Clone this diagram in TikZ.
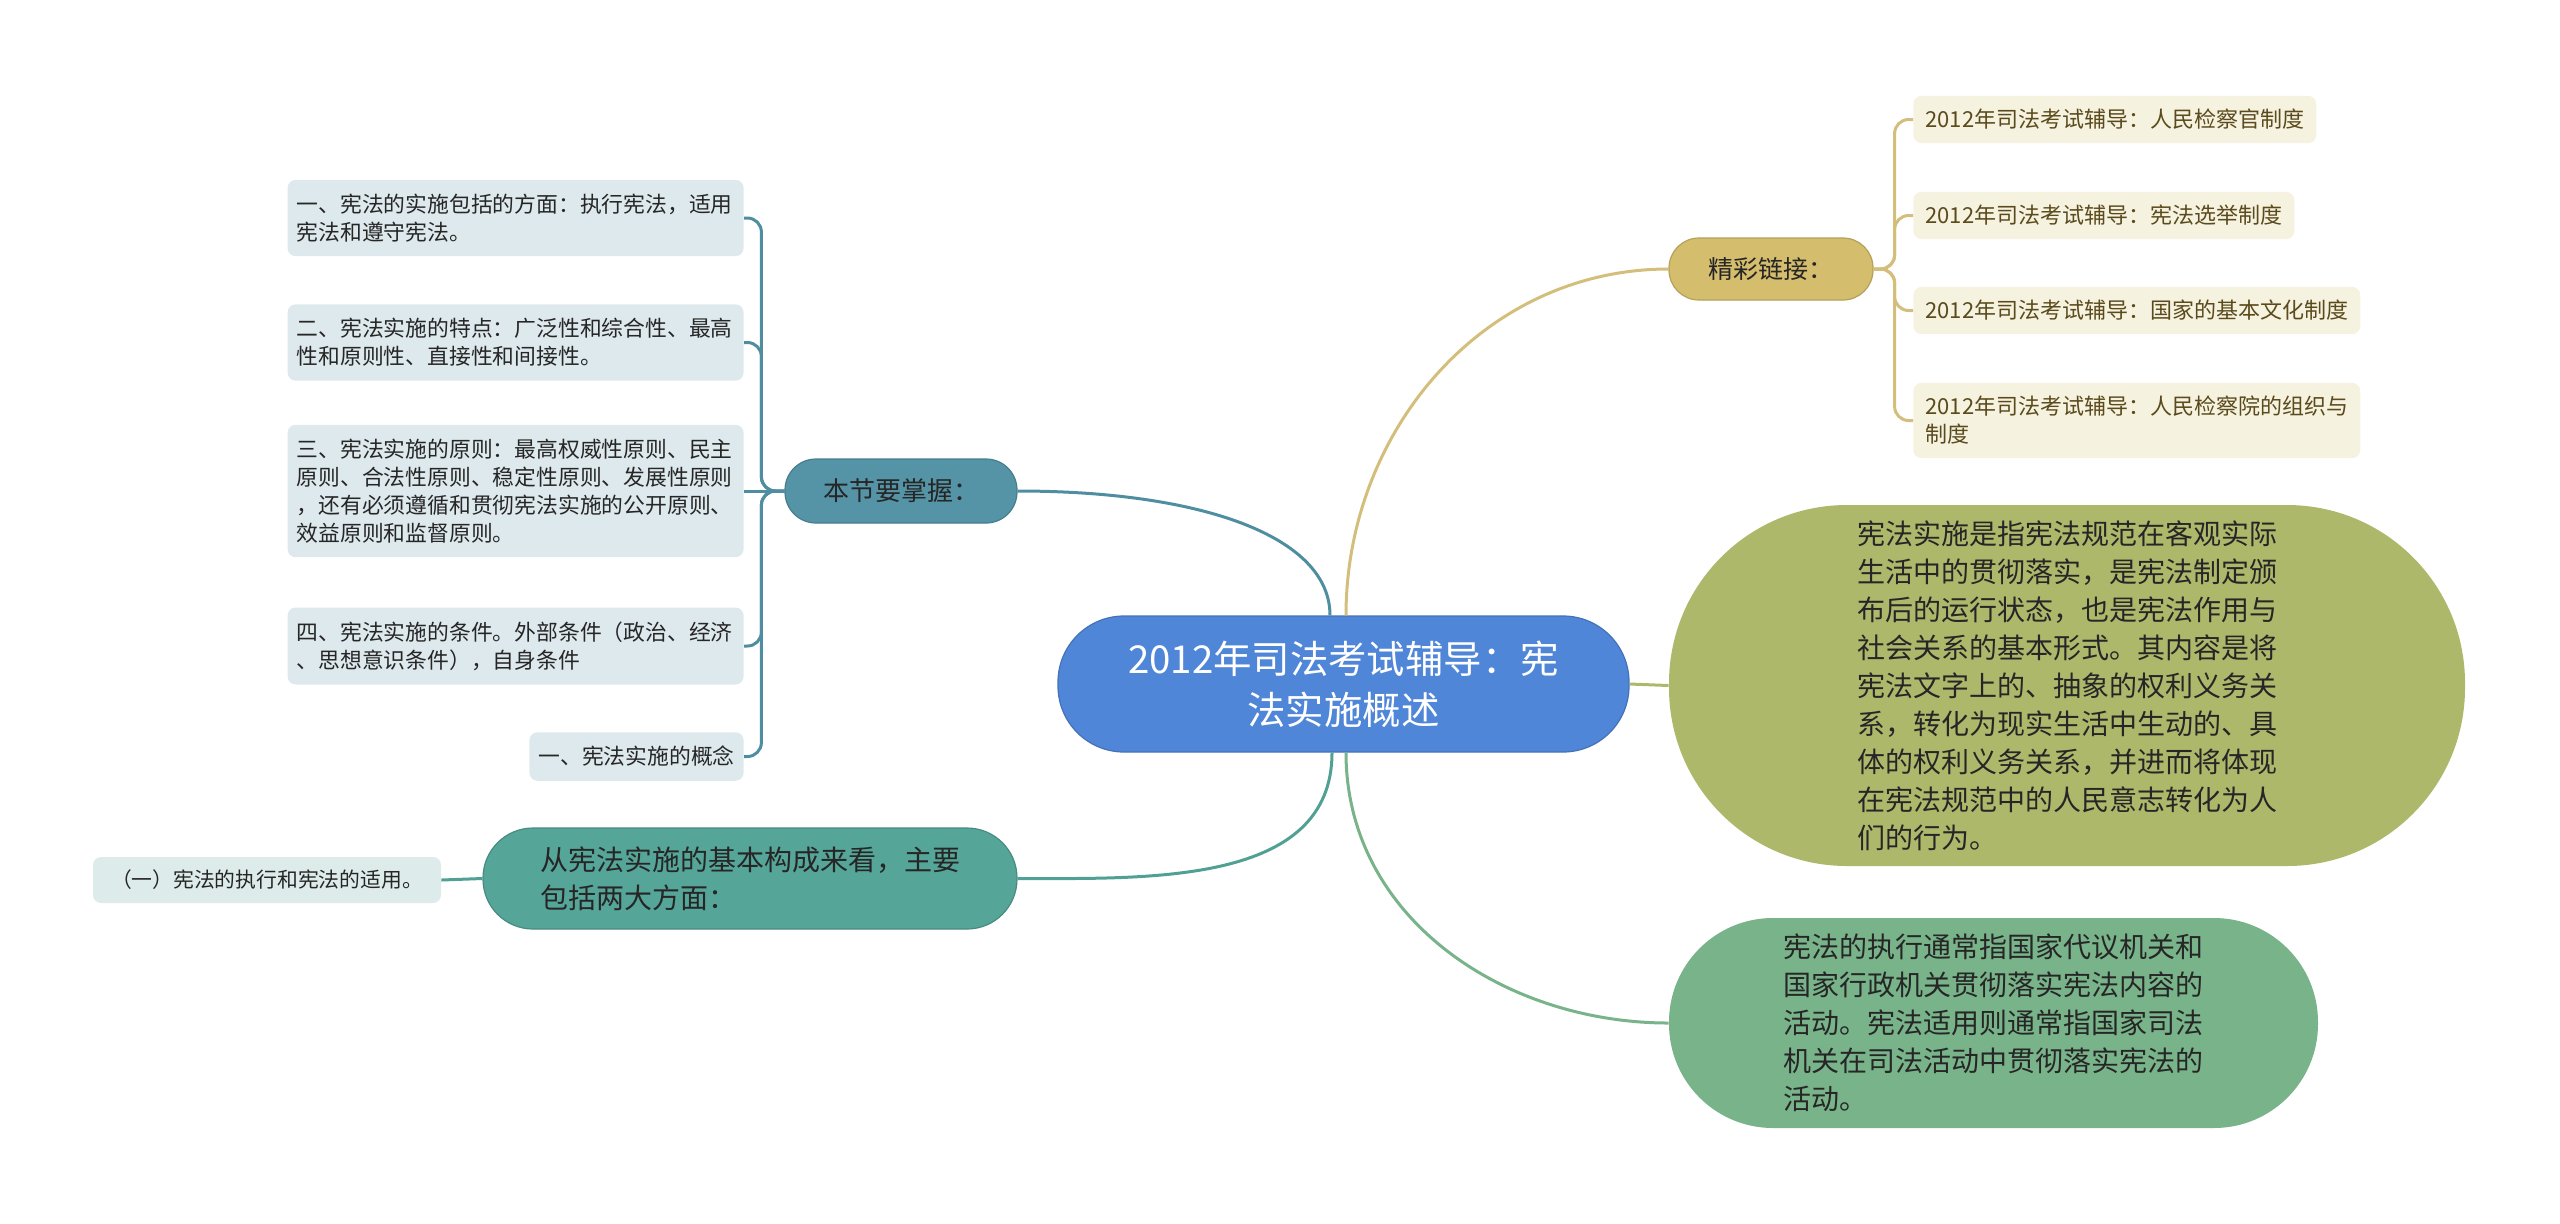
\documentclass[tikz,border=0pt]{standalone}
\usepackage{fontspec}
\setmainfont{Noto Sans CJK SC}
\definecolor{cBlue}{HTML}{5086D8}
\definecolor{cTeal}{HTML}{5494A6}
\definecolor{cTealL}{HTML}{4F8EA0}
\definecolor{cLeaf}{HTML}{DEE9ED}
\definecolor{cGrn}{HTML}{55A598}
\definecolor{cGrnL}{HTML}{50A094}
\definecolor{cLeafG}{HTML}{DDECEA}
\definecolor{cGold}{HTML}{D4BD6C}
\definecolor{cGoldL}{HTML}{D3BF7B}
\definecolor{cLnk}{HTML}{F6F2E0}
\definecolor{cLnkT}{HTML}{5A4A1C}
\definecolor{cOlive}{HTML}{ADB86B}
\definecolor{cSage}{HTML}{78B38A}
\definecolor{cTxt}{HTML}{262626}
\tikzset{topic/.style={fill=cBlue,draw=cBlue!85!black,line width=0.6pt,text=white,align=center,rounded corners=33pt,minimum width=285.5pt,minimum height=68pt,font=\fontsize{19.2}{25.5}\selectfont},
branch/.style={fill=#1,draw=#1!85!black,line width=0.6pt,text=cTxt,align=left},
leaf/.style={fill=cLeaf,text=cTxt,rounded corners=4pt,align=left,inner xsep=4.5pt,inner ysep=7pt,font=\fontsize{10.9}{14}\selectfont},
lnk/.style={fill=cLnk,text=cLnkT,rounded corners=4pt,align=left,anchor=west,inner xsep=6pt,inner ysep=6.7pt,font=\fontsize{11}{14}\selectfont},
bub/.style={fill=#1,text=cTxt,align=left,font=\fontsize{14}{19}\selectfont},
conn/.style={draw=#1,line width=1.5pt}}
\begin{document}
\begin{tikzpicture}[x=0.5pt,y=-0.5pt]
\useasboundingbox (0,0) rectangle (2560,1223);
% centre
\node[topic](c)at(1343.5,684){2012年司法考试辅导：宪\\法实施概述};
% left side
\node[branch=cTeal,rounded corners=15.5pt,minimum width=116pt,minimum height=32pt,font=\fontsize{13}{16}\selectfont](bj)at(901,491){本节要掌握：};
\node[leaf,anchor=east,text width=219pt](b1)at(744,218){一、宪法的实施包括的方面：执行宪法，适用\\宪法和遵守宪法。};
\node[leaf,anchor=east,text width=219pt](b2)at(744,342.5){二、宪法实施的特点：广泛性和综合性、最高\\性和原则性、直接性和间接性。};
\node[leaf,anchor=east,text width=219pt](b3)at(744,491){三、宪法实施的原则：最高权威性原则、民主\\原则、合法性原则、稳定性原则、发展性原则\\，还有必须遵循和贯彻宪法实施的公开原则、\\效益原则和监督原则。};
\node[leaf,anchor=east,text width=219pt](b4)at(744,646){四、宪法实施的条件。外部条件（政治、经济\\、思想意识条件），自身条件};
\node[leaf,anchor=east](b5)at(744,756.5){一、宪法实施的概念};
\node[branch=cGrn,rounded corners=25pt,minimum width=267pt,minimum height=50.5pt,font=\fontsize{14}{18.75}\selectfont](cj)at(750,878.5){从宪法实施的基本构成来看，主要\\包括两大方面：};
\node[leaf,fill=cLeafG,minimum width=174pt,minimum height=23pt,inner ysep=3pt,font=\fontsize{10.4}{13}\selectfont](yi)at(267,880){（一）宪法的执行和宪法的适用。};
% right side
\node[branch=cGold,rounded corners=15pt,minimum width=102pt,minimum height=31pt,font=\fontsize{12.5}{15}\selectfont](jc)at(1771,269){精彩链接：};
\node[lnk](l1)at(1913,119.5){2012年司法考试辅导：人民检察官制度};
\node[lnk](l2)at(1913,215.5){2012年司法考试辅导：宪法选举制度};
\node[lnk](l3)at(1913,310.5){2012年司法考试辅导：国家的基本文化制度};
\node[lnk](l4)at(1913,420.5){2012年司法考试辅导：人民检察院的组织与\\制度};
\node[bub=cOlive,rounded corners=89pt,minimum width=398pt,minimum height=180.5pt](ol)at(2067,685.5){宪法实施是指宪法规范在客观实际\\生活中的贯彻落实，是宪法制定颁\\布后的运行状态，也是宪法作用与\\社会关系的基本形式。其内容是将\\宪法文字上的、抽象的权利义务关\\系，转化为现实生活中生动的、具\\体的权利义务关系，并进而将体现\\在宪法规范中的人民意志转化为人\\们的行为。};
\node[bub=cSage,rounded corners=52pt,minimum width=324.5pt,minimum height=105pt](gr)at(1993.5,1023){宪法的执行通常指国家代议机关和\\国家行政机关贯彻落实宪法内容的\\活动。宪法适用则通常指国家司法\\机关在司法活动中贯彻落实宪法的\\活动。};
% connectors
\draw[conn=cTealL]([xshift=-6.75pt]c.north)to[out=90,in=0,out looseness=0.6,in looseness=1.4](bj.east);
\draw[conn=cGoldL]([xshift=1.25pt]c.north)to[out=90,in=180](jc.west);
\draw[conn=cOlive](c.east)--(ol.west);
\draw[conn=cGrnL]([xshift=-5.75pt]c.south)to[out=-90,in=0](cj.east);
\draw[conn=cSage]([xshift=1.25pt]c.south)to[out=-90,in=180](gr.west);
\draw[conn=cGrnL](cj.west)--(yi.east);
\foreach\n in{b1,b2,b4,b5}\draw[conn=cTealL,rounded corners=7pt](bj.west)--++(-23,0)|-(\n.east);
\draw[conn=cTealL](bj.west)--(b3.east);
\foreach\n in{l1,l2,l3,l4}\draw[conn=cGoldL,rounded corners=7pt](jc.east)--++(21,0)|-(\n.west);
\end{tikzpicture}
\end{document}
